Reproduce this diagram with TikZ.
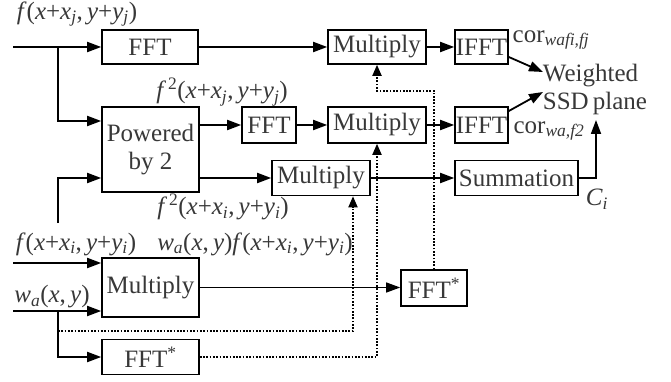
\documentclass[tikz,border=0pt]{standalone}
\usepackage{fontspec}
\setmainfont{Liberation Serif}
\usetikzlibrary{arrows.meta,calc}
\newcommand\fsz{\fontsize{25}{28}\selectfont}
\begin{document}
\begin{tikzpicture}[x=1pt,y=-1pt,
  box/.style={draw, line width=1.6pt, inner sep=0pt, font=\fsz, text=black!78},
  ln/.style={line width=1.8pt, -{Triangle[length=14pt,width=10pt]}},
  thinln/.style={line width=1.1pt, -{Triangle[length=14pt,width=10pt]}},
  dt/.style={line width=1.8pt, dash pattern=on 1.7pt off 1.6pt, -{Triangle[length=11pt,width=9pt]}},
  lbl/.style={font=\fsz, text=black!78, inner sep=0pt}]
\useasboundingbox (0,0) rectangle (671,382);
% boxes
\node[box, minimum width=96pt, minimum height=34pt] (fft1) at (150,47) {FFT};
\node[box, minimum width=98pt, minimum height=34pt] (mul1) at (377,47) {Multiply};
\node[box, minimum width=53pt, minimum height=34pt] (ifft1) at (481.5,47) {IFFT};
\node[box, minimum width=97pt, minimum height=85pt, align=center] (pow) at (150.5,149.5) {Powered\\by 2};
\node[box, minimum width=54pt, minimum height=36pt] (fft2) at (269,125) {FFT};
\node[box, minimum width=98pt, minimum height=36pt] (mul2) at (377,125) {Multiply};
\node[box, minimum width=53pt, minimum height=36pt] (ifft2) at (481.5,125) {IFFT};
\node[box, minimum width=98pt, minimum height=35pt] (mul3) at (321,178) {Multiply};
\node[box, minimum width=123pt, minimum height=35pt] (sum) at (516.5,178) {Summation};
\node[box, minimum width=97pt, minimum height=59pt] (mul4) at (150.5,287.5) {Multiply};
\node[box, minimum width=66pt, minimum height=36pt] (fftc1) at (434,288) {FFT\textsuperscript{*}};
\node[box, minimum width=97pt, minimum height=35pt] (fftc2) at (150.5,357) {FFT\textsuperscript{*}};
\node[lbl, align=left] (ssd) at (595,89) {Weighted\\SSD\,plane};
% labels
\node[lbl] (l1) at (77,14) {\textit{f}(\textit{x}+\textit{x\textsubscript{j}},\,\textit{y}+\textit{y\textsubscript{j}})};
\node[lbl] (l2) at (222,92) {\textit{f}\kern2pt\textsuperscript{2}(\textit{x}+\textit{x\textsubscript{j}},\,\textit{y}+\textit{y\textsubscript{j}})};
\node[lbl] (l3) at (223,207) {\textit{f}\kern2pt\textsuperscript{2}(\textit{x}+\textit{x\textsubscript{i}},\,\textit{y}+\textit{y\textsubscript{i}})};
\node[lbl] (l4) at (76,244) {\textit{f}(\textit{x}+\textit{x\textsubscript{i}},\,\textit{y}+\textit{y\textsubscript{i}})};
\node[lbl] (l5) at (255,244) {\textit{w\textsubscript{a}}(\textit{x},\,\textit{y})\textit{f}(\textit{x}+\textit{x\textsubscript{i}},\,\textit{y}+\textit{y\textsubscript{i}})};
\node[lbl] (l6) at (52,297) {\textit{w\textsubscript{a}}(\textit{x},\,\textit{y})};
\node[lbl] (l7) at (551,40) {cor\textsubscript{\textit{wafi,fj}}};
\node[lbl] (l8) at (549,131) {cor\textsubscript{\textit{wa,f2}}};
\node[lbl] (l9) at (597,199) {\textit{C\textsubscript{i}}};
% coordinates
\coordinate (in1) at (13,47);
\coordinate (b1) at (58,47);
\coordinate (b3) at (58,223);
\coordinate (in3) at (13,263);
\coordinate (in4) at (13,311);
\coordinate (b2) at (58,311);
\coordinate (d1) at (58,331);
\coordinate (s1) at (543,72);
\coordinate (s2) at (543,92);
\coordinate (s3) at (596,120);
% solid connectors
\draw[ln] (in1) -- (fft1.west);
\draw[ln] (fft1) -- (mul1);
\draw[ln] (mul1) -- (ifft1);
\draw[ln] (b1) |- ([yshift=28.5pt]pow.west);
\draw[ln] (b3) |- ([yshift=-28.5pt]pow.west);
\draw[ln] ([yshift=24.5pt]pow.east) -- (fft2.west);
\draw[ln] ([yshift=-28.5pt]pow.east) -- (mul3.west);
\draw[ln] (fft2) -- (mul2);
\draw[ln] (mul2) -- (ifft2);
\draw[ln] (mul3) -- (sum);
\draw[ln] (sum.east) -| (s3);
\draw[ln] ([yshift=-10pt]ifft1.east) -- (s1);
\draw[ln] ([yshift=14pt]ifft2.east) -- (s2);
\draw[ln] (in3) -- (in3 -| mul4.west);
\draw[ln] (in4) -- (in4 -| mul4.west);
\draw[ln] (b2) |- (fftc2.west);
\draw[thinln] (mul4.east) -- (mul4.east -| fftc1.west);
% dotted connectors
\draw[dt] (d1) -| ([xshift=32pt]mul3.south);
\draw[dt] (fftc2.east) -| (mul2.south);
\draw[dt] (fftc1.north) |- ($(mul1.south)+(0,26)$) -| (mul1.south);
\end{tikzpicture}
\end{document}
